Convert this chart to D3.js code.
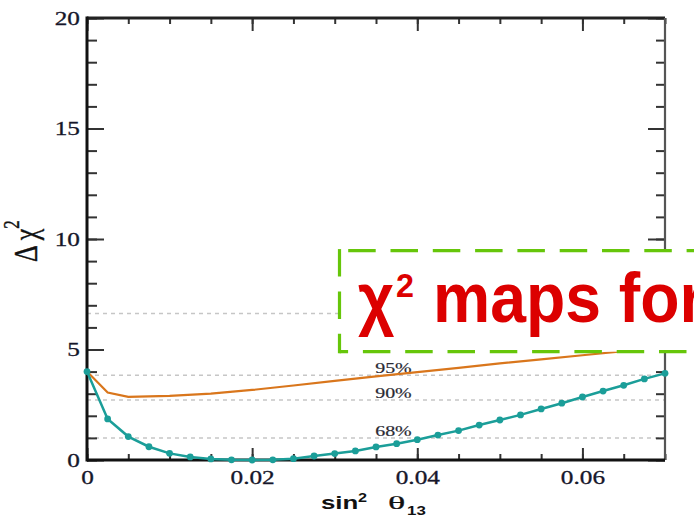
<!DOCTYPE html>
<html>
<head>
<meta charset="utf-8">
<script src="https://cdn.jsdelivr.net/npm/d3@7"></script>
<style>
  html, body { margin: 0; padding: 0; background: #fff; }
  svg { display: block; }
</style>
</head>
<body>
<svg id="chart" width="694" height="525"></svg>
<script>
// Δχ² profiles versus sin²θ13
const sin2Theta13 = [0, 0.0025, 0.005, 0.0075, 0.01, 0.0125, 0.015, 0.0175, 0.02, 0.0225,
  0.025, 0.0275, 0.03, 0.0325, 0.035, 0.0375, 0.04, 0.0425, 0.045, 0.0475,
  0.05, 0.0525, 0.055, 0.0575, 0.06, 0.0625, 0.065, 0.0675, 0.07];
const chi2Teal = [4.0, 1.86, 1.06, 0.60, 0.30, 0.14, 0.05, 0.01, 0.0, 0.01,
  0.06, 0.18, 0.29, 0.41, 0.59, 0.74, 0.92, 1.13, 1.33, 1.58,
  1.81, 2.04, 2.31, 2.57, 2.85, 3.12, 3.38, 3.67, 3.92];

const sin2Orange = [0, 0.0025, 0.005, 0.01, 0.015, 0.02, 0.025, 0.03, 0.035, 0.04,
  0.045, 0.05, 0.055, 0.06, 0.065, 0.07];
const chi2Orange = [4.0, 3.05, 2.86, 2.90, 3.0, 3.17, 3.37, 3.58, 3.78, 3.98,
  4.17, 4.37, 4.55, 4.74, 4.93, 5.12];

// confidence-level reference lines (the 99% line carries no label)
const clLevels = [1.0, 2.71, 3.84, 6.63];
const clLabeled = [1.0, 2.71, 3.84];
const clLabels = ["68%", "90%", "95%"];

const xMajorTicks = [0, 0.02, 0.04, 0.06];
const xTickLabels = ["0", "0.02", "0.04", "0.06"];
const yMajorTicks = [0, 5, 10, 15, 20];
const yTickLabels = ["0", "5", "10", "15", "20"];

const SX = 1.33; // horizontal stretch of the chart lettering
const serif = "'Liberation Serif', 'Times New Roman', serif";
const sans = "'Liberation Sans', Arial, sans-serif";

const svg = d3.select("#chart");
const x = d3.scaleLinear().domain([0, 0.07]).range([87, 665]);
const y = d3.scaleLinear().domain([0, 20]).range([460, 18]);

function stretch(sel, k) {
  sel.each(function () {
    const t = d3.select(this);
    const tx = +t.attr("x") || 0, ty = +t.attr("y") || 0;
    t.attr("x", 0).attr("y", 0)
     .attr("transform", `translate(${tx},${ty}) scale(${k},1)`);
  });
}

// dashed CL lines
svg.append("g").selectAll("line").data(clLevels).join("line")
  .attr("x1", x(0)).attr("x2", x(0.07))
  .attr("y1", d => y(d)).attr("y2", d => y(d))
  .attr("stroke", "#c6c6c6").attr("stroke-width", 1.5)
  .attr("stroke-dasharray", "4 4");

svg.append("g").selectAll("text").data(clLabeled).join("text")
  .attr("x", x(0.0349)).attr("y", d => y(d) - 2)
  .attr("font-family", serif).attr("font-size", 15).attr("fill", "#2a2a33")
  .attr("stroke", "#2a2a33").attr("stroke-width", 0.2)
  .text((d, i) => clLabels[i])
  .call(stretch, SX);

// axes
function tickStyle(g) {
  g.select(".domain").remove();
  g.selectAll(".tick line").attr("stroke", "#333").attr("stroke-width", 2);
}
const xMinor = x.ticks(14);
const yMinor = y.ticks(20);

svg.append("g").attr("transform", `translate(0,${y(0)})`)
  .call(d3.axisBottom(x).tickValues(xMinor).tickSize(-6).tickFormat(""))
  .call(tickStyle);
const xb = svg.append("g").attr("transform", `translate(0,${y(0)})`)
  .call(d3.axisBottom(x).tickValues(xMajorTicks).tickSize(-12).tickPadding(11)
    .tickFormat((d, i) => xTickLabels[i]))
  .call(tickStyle);
xb.selectAll("text").attr("font-family", serif).attr("font-size", 19)
  .attr("fill", "#16162a").attr("stroke", "#16162a").attr("stroke-width", 0.3)
  .call(stretch, SX);

svg.append("g").attr("transform", `translate(0,${y(20)})`)
  .call(d3.axisTop(x).tickValues(xMinor).tickSize(-6).tickFormat(""))
  .call(tickStyle);
svg.append("g").attr("transform", `translate(0,${y(20)})`)
  .call(d3.axisTop(x).tickValues(xMajorTicks).tickSize(-13).tickFormat(""))
  .call(tickStyle);

svg.append("g").attr("transform", `translate(${x(0)},0)`)
  .call(d3.axisLeft(y).tickValues(yMinor).tickSize(-10).tickFormat(""))
  .call(tickStyle);
const yl = svg.append("g").attr("transform", `translate(${x(0)},0)`)
  .call(d3.axisLeft(y).tickValues(yMajorTicks).tickSize(-17).tickPadding(7)
    .tickFormat((d, i) => yTickLabels[i]))
  .call(tickStyle);
yl.selectAll("text").attr("font-family", serif).attr("font-size", 19)
  .attr("fill", "#16162a").attr("stroke", "#16162a").attr("stroke-width", 0.3)
  .call(stretch, SX);

svg.append("g").attr("transform", `translate(${x(0.07)},0)`)
  .call(d3.axisRight(y).tickValues(yMinor).tickSize(-9).tickFormat(""))
  .call(tickStyle);
svg.append("g").attr("transform", `translate(${x(0.07)},0)`)
  .call(d3.axisRight(y).tickValues(yMajorTicks).tickSize(-17).tickFormat(""))
  .call(tickStyle);

// frame
const frame = svg.append("g");
frame.append("line").attr("x1", x(0)).attr("x2", x(0.07)).attr("y1", y(20)).attr("y2", y(20))
  .attr("stroke", "#222").attr("stroke-width", 3);
frame.append("line").attr("x1", x(0.07)).attr("x2", x(0.07)).attr("y1", y(20)).attr("y2", y(0))
  .attr("stroke", "#555").attr("stroke-width", 2.2);
frame.append("line").attr("x1", x(0)).attr("x2", x(0.07)).attr("y1", y(0)).attr("y2", y(0))
  .attr("stroke", "#111").attr("stroke-width", 3);
frame.append("line").attr("x1", x(0)).attr("x2", x(0)).attr("y1", y(20) - 1.5).attr("y2", y(0) + 1.5)
  .attr("stroke", "#111").attr("stroke-width", 3);

// curves
const orangePts = sin2Orange.map((s, i) => [s, chi2Orange[i]]);
const tealPts = sin2Theta13.map((s, i) => [s, chi2Teal[i]]);
const line = d3.line().x(d => x(d[0])).y(d => y(d[1]));

svg.append("path").datum(orangePts).attr("d", line)
  .attr("fill", "none").attr("stroke", "#d9761c").attr("stroke-width", 2.2);
svg.append("path").datum(tealPts).attr("d", line)
  .attr("fill", "none").attr("stroke", "#1b9e99").attr("stroke-width", 2.5);
svg.append("g").selectAll("circle").data(tealPts).join("circle")
  .attr("cx", d => x(d[0])).attr("cy", d => y(d[1])).attr("r", 3.4)
  .attr("fill", "#1b9e99");

// axis titles
const yt = svg.append("text")
  .attr("transform", "translate(37,262) scale(1.3,1) rotate(-90)")
  .attr("font-family", serif).attr("font-size", 26).attr("fill", "#111")
  .attr("stroke", "#111").attr("stroke-width", 0.3);
yt.append("tspan").text("Δ χ");
yt.append("tspan").attr("font-size", 17).attr("dy", -14).text("2");

const ink = "#111";
svg.append("text").attr("transform", "translate(321,509) scale(1.36,1)")
  .attr("font-family", sans).attr("font-weight", "bold")
  .attr("font-size", 19).attr("fill", ink).text("sin");
svg.append("text").attr("transform", "translate(358,502) scale(1.3,1)")
  .attr("font-family", sans).attr("font-weight", "bold")
  .attr("font-size", 12.5).attr("fill", ink).text("2");
svg.append("text").attr("transform", "translate(388,509) scale(1.9,1)")
  .attr("font-family", serif).attr("font-size", 19).attr("fill", ink)
  .attr("stroke", ink).attr("stroke-width", 0.25).text("θ");
svg.append("text").attr("transform", "translate(407,515) scale(1.3,1)")
  .attr("font-family", sans).attr("font-weight", "bold")
  .attr("font-size", 13).attr("fill", ink).text("13");

// overlay caption box
const box = svg.append("g");
box.append("rect").attr("x", 339.5).attr("y", 250.7).attr("width", 420).attr("height", 101)
  .attr("fill", "#fff");
const dash = "27.5 14.8";
const green = "#66c60a";
box.append("line").attr("x1", 339.5).attr("x2", 760).attr("y1", 250.7).attr("y2", 250.7)
  .attr("stroke", green).attr("stroke-width", 3.2).attr("stroke-dasharray", dash).attr("stroke-dashoffset", -8.7);
box.append("line").attr("x1", 339.5).attr("x2", 760).attr("y1", 351.7).attr("y2", 351.7)
  .attr("stroke", green).attr("stroke-width", 3.2).attr("stroke-dasharray", dash).attr("stroke-dashoffset", -23.4);
box.append("line").attr("x1", 339.5).attr("x2", 339.5).attr("y1", 249.1).attr("y2", 353.3)
  .attr("stroke", green).attr("stroke-width", 3.2).attr("stroke-dasharray", dash);

const red = "#dc0000";
box.append("text").attr("transform", "translate(358,322) scale(0.9,1)")
  .attr("font-family", sans).attr("font-weight", "bold")
  .attr("font-size", 70).attr("fill", red).text("χ");
box.append("text").attr("transform", "translate(396,297) scale(0.95,1)")
  .attr("font-family", sans).attr("font-weight", "bold")
  .attr("font-size", 34).attr("fill", red).text("2");
const words = box.append("text")
  .attr("font-family", sans).attr("font-weight", "bold")
  .attr("font-size", 70).attr("fill", red).text("maps");
const mapsWidth = words.node().getComputedTextLength();
const k = 168 / mapsWidth;
words.text("maps for").attr("transform", `translate(433,322) scale(${k},1)`);
</script>
</body>
</html>
